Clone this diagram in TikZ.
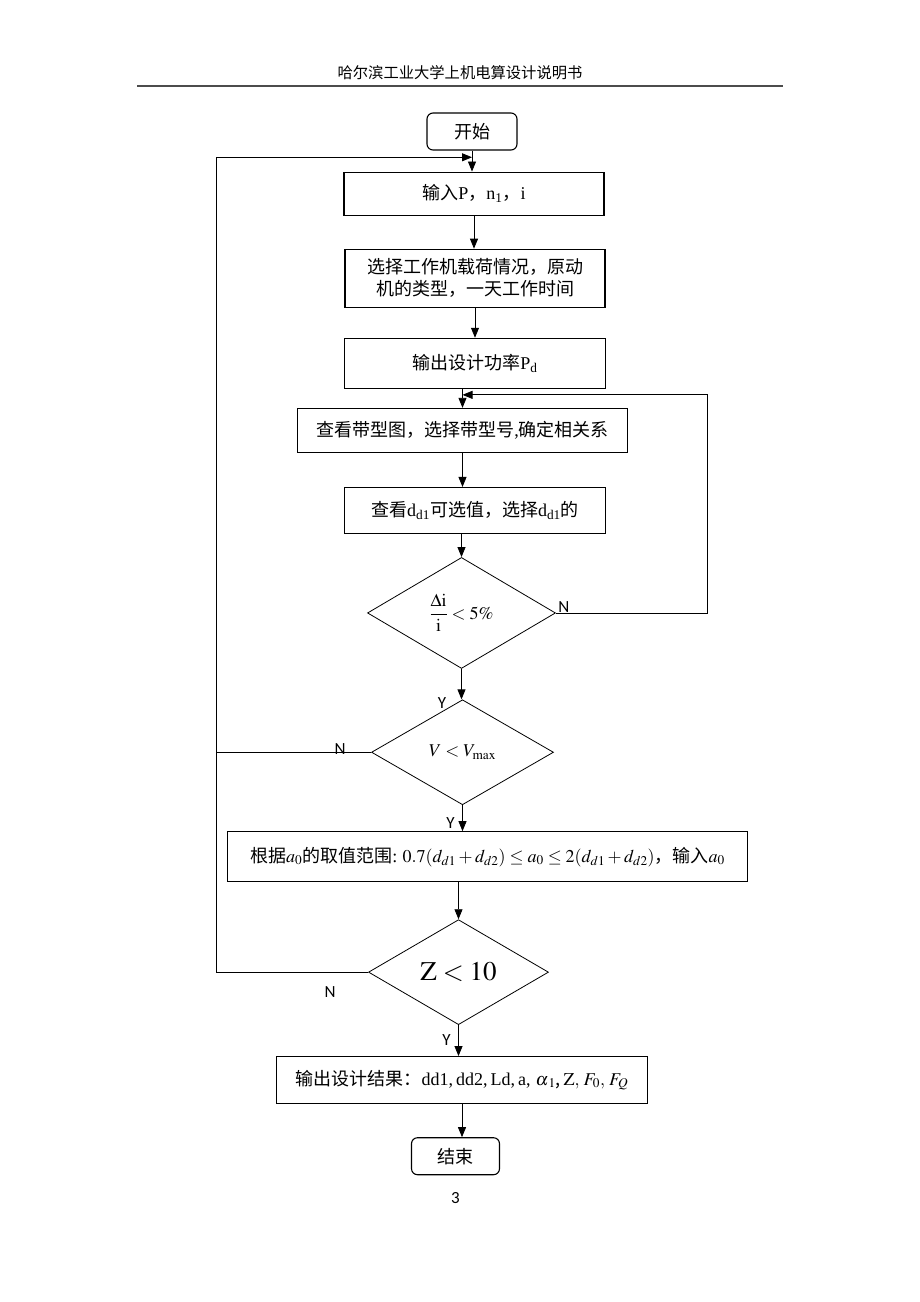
\documentclass[tikz,border=0pt]{standalone}
\usepackage{mathptmx}
\usepackage{fontspec}
\setmainfont{Liberation Serif}
\newfontfamily\cjk{Noto Sans CJK SC}
\newfontfamily\carlito{Carlito}
\usetikzlibrary{positioning}
\usetikzlibrary{arrows.meta}
\usetikzlibrary{calc, shapes}
\tikzset{%
	% Specifications for style of nodes:
	base/.style = {rectangle, draw=black, line width=1.1pt,
		inner sep=2pt, text centered,
		font=\cjk\fontsize{18pt}{22pt}\selectfont},
	startstop/.style = {base, rounded corners=6pt, minimum height=37pt},
	process/.style = {base, minimum height=46pt},
	decision/.style = {diamond, draw=black, line width=0.8pt, inner sep=0pt,
		font=\fontsize{18pt}{22pt}\selectfont},
	yesno/.style = {inner sep=0pt, font=\carlito\fontsize{17pt}{20pt}\selectfont},
}

\begin{document}
\begin{tikzpicture}[x=1pt, y=1pt, line width=0.8pt,
	>={Triangle[length=10pt, width=8pt]}, align=center]
\useasboundingbox (0,0) rectangle (920,-1302);

% page header
\node (header) at (460,-73) {\cjk\fontsize{15.3pt}{18pt}\selectfont 哈尔滨工业大学上机电算设计说明书};
\draw[line width=1.6pt, black!70] (137,-86) -- (783,-86);

\node (start) [startstop, minimum width=90pt] at (472,-131.5) {开始};
\node (inP) [process, minimum width=260pt, minimum height=43pt, below=21pt of start, xshift=2pt] {输入{\rmfamily P}，{\rmfamily n\textsubscript{1}}，{\rmfamily i}};
\node (selLoad) [process, minimum width=260pt, minimum height=58pt, below=33pt of inP, xshift=1pt] {选择工作机载荷情况，原动\\机的类型，一天工作时间};
\node (outPd) [process, minimum width=261pt, minimum height=50pt, below=30pt of selLoad] {输出设计功率{\rmfamily P\textsubscript{d}}};
\node (belt) [process, minimum width=330pt, minimum height=44pt, below=19pt of outPd, xshift=-12.5pt] {查看带型图，选择带型号{\rmfamily ,}确定相关系};
\node (dd1) [process, minimum width=261pt, minimum height=46pt, below=34pt of belt, xshift=12.5pt] {查看{\rmfamily d\textsubscript{d1}}可选值，选择{\rmfamily d\textsubscript{d1}}的};
\node (ratio) [decision, minimum width=188pt, minimum height=111pt, below=23pt of dd1, xshift=-13.5pt] {$\displaystyle\frac{\Delta\mathrm{i}}{\mathrm{i}}<5\%$};
\node (vmax) [decision, minimum width=182pt, minimum height=105pt, below=30.5pt of ratio, xshift=1pt] {$V<V_{\max}$};
\node (range) [process, minimum width=520pt, minimum height=50pt, below=26pt of vmax, xshift=25pt] {根据$a_0$的取值范围{\rmfamily :} $0.7(d_{d1}+d_{d2})\le a_0\le 2(d_{d1}+d_{d2})$，输入$a_0$};
\node (zcheck) [decision, minimum width=180pt, minimum height=105pt, below=37pt of range, xshift=-29pt] {\fontsize{27pt}{32pt}\selectfont$\mathrm{Z}<10$};
\node (result) [process, minimum width=371pt, minimum height=47pt, below=31pt of zcheck, xshift=3.5pt] {输出设计结果：{\rmfamily dd1,\,dd2,\,Ld,\,a,}\;$\alpha_{\kern1.5pt 1}$,\,$\mathrm{Z},\,F_0,\,F_Q$};
\node (stop) [startstop, minimum width=88pt, below=33pt of result, xshift=-6.5pt] {结束};
\node (pagenum) [yesno, below=17pt of stop] {3};

% main flow
\draw[->] (start.south) -- (start.south |- inP.north);
\draw[->] (inP.south) -- (inP.south |- selLoad.north);
\draw[->] (selLoad.south) -- (selLoad.south |- outPd.north);
\draw[->] (belt.north |- outPd.south) -- (belt.north);
\draw[->] (belt.south) -- (belt.south |- dd1.north);
\draw[->] (ratio.north |- dd1.south) -- (ratio.north);
\draw[->] (ratio.south) -- (ratio.south |- vmax.north);
\draw[->] (vmax.south) -- (vmax.south |- range.north);
\draw[->] (zcheck.north |- range.south) -- (zcheck.north);
\draw[->] (zcheck.south) -- (zcheck.south |- result.north);
\draw[->] (result.south) -- (result.south |- stop.north);

% loops back
\coordinate (topjoin) at ($(start.south)!0.32!(start.south |- inP.north)$);
\coordinate (rjoin) at ($(belt.north)+(0,13)$);
\coordinate (leftrail) at (216,0);
\draw[->] (ratio.east) -- ++(151,0) |- (rjoin);
\draw (vmax.west) -- (vmax.west -| leftrail);
\draw[->] (zcheck.west) -- (zcheck.west -| leftrail) |- (topjoin);

% Y / N labels
\node (nRatio) [yesno, anchor=west, xshift=2pt, yshift=6pt] at (ratio.east) {N};
\node (yRatio) [yesno, anchor=east, xshift=-16pt, yshift=-4pt] at (vmax.north) {Y};
\node (nVmax) [yesno, anchor=east, xshift=-25pt, yshift=3pt] at (vmax.west) {N};
\node (yVmax) [yesno] at ([xshift=-12pt, yshift=-18pt]vmax.south) {Y};
\node (nZ) [yesno] at ([xshift=-38pt, yshift=-20pt]zcheck.west) {N};
\node (yZ) [yesno] at ([xshift=-12pt, yshift=-15pt]zcheck.south) {Y};
\end{tikzpicture}
\end{document}
